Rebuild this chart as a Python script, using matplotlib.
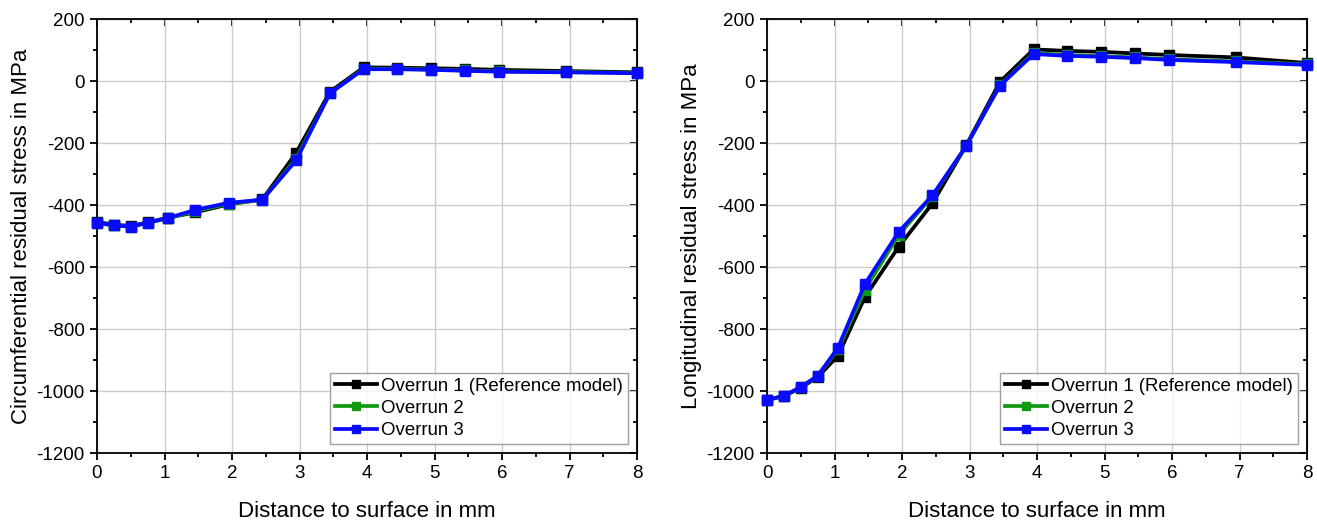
import numpy as np
import matplotlib.pyplot as plt

plt.rcParams['font.family'] = ['Liberation Sans', 'DejaVu Sans']
plt.rcParams['axes.unicode_minus'] = False

# depth positions (mm)
depth = [0, 0.25, 0.5, 0.75, 1.05, 1.45, 1.95, 2.45, 2.95, 3.45, 3.95, 4.45, 4.95, 5.45, 5.95, 6.95, 8]

# circumferential residual stress (MPa)
circ_1 = [-455, -463, -468, -456, -441, -424, -398, -382, -232, -35, 44, 43, 41, 39, 36, 32, 28]
circ_2 = [-458, -466, -470, -458, -443, -420, -396, -384, -250, -40, 40, 39, 37, 34, 31, 29, 26]
circ_3 = [-458, -465, -470, -457, -442, -416, -393, -383, -256, -40, 38, 38, 36, 33, 30, 28, 25]

# longitudinal residual stress (MPa)
long_1 = [-1029, -1016, -990, -955, -887, -697, -535, -395, -208, -3, 102, 97, 94, 89, 84, 76, 58]
long_2 = [-1029, -1016, -988, -952, -866, -674, -497, -372, -210, -14, 90, 84, 80, 76, 70, 63, 54]
long_3 = [-1029, -1016, -987, -951, -861, -655, -487, -369, -210, -15, 87, 81, 78, 74, 68, 61, 52]

labels = ['Overrun 1 (Reference model)', 'Overrun 2', 'Overrun 3']
colors = ['black', '#119911', '#0a0aff']

fig = plt.figure(figsize=(13.17, 5.21), dpi=100)
ax1 = fig.add_axes([97 / 1317, 1 - 453 / 521, 540 / 1317, 434 / 521])
ax2 = fig.add_axes([767 / 1317, 1 - 453 / 521, 540 / 1317, 434 / 521])


def draw(ax, series, ylabel):
    for ys, lab, c in zip(series, labels, colors):
        ax.plot(depth, ys, color=c, lw=2.7, marker='s', ms=7.5, label=lab, clip_on=False, zorder=3)
    ax.set_xlim(0, 8)
    ax.set_ylim(-1200, 200)
    ax.set_xticks(np.arange(0, 9, 1))
    ax.set_xticks(np.arange(0.5, 8, 1), minor=True)
    ax.set_yticks(np.arange(-1200, 201, 200))
    ax.set_yticks(np.arange(-1100, 200, 200), minor=True)
    ax.grid(True, which='major', color='#cccccc', lw=1)
    ax.tick_params(which='major', direction='out', length=5, width=1.3, labelsize=13.5, pad=4)
    ax.tick_params(which='minor', direction='out', length=3, width=1.3)
    for s in ax.spines.values():
        s.set_linewidth(1.3)
    # inward ticks on the opposite sides
    top = ax.secondary_xaxis('top')
    top.set_xticks(np.arange(0, 9, 1))
    top.set_xticks(np.arange(0.5, 8, 1), minor=True)
    top.tick_params(which='both', direction='in', labeltop=False, width=1.3)
    top.tick_params(which='major', length=5)
    top.tick_params(which='minor', length=3)
    right = ax.secondary_yaxis('right')
    right.set_yticks(np.arange(-1200, 201, 200))
    right.set_yticks(np.arange(-1100, 200, 200), minor=True)
    right.tick_params(which='both', direction='in', labelright=False, width=1.3)
    right.tick_params(which='major', length=5)
    right.tick_params(which='minor', length=3)
    ax.set_xlabel('Distance to surface in mm', fontsize=16, labelpad=13)
    ax.set_ylabel(ylabel, fontsize=16, labelpad=3)
    leg = ax.legend(loc='lower right', fontsize=13.4, numpoints=1, handlelength=2.3,
                    handletextpad=0.2, labelspacing=0.28, borderpad=0.25,
                    borderaxespad=0.5, fancybox=False, edgecolor='#888888', markerscale=0.75)
    leg.get_frame().set_linewidth(1)


draw(ax1, [circ_1, circ_2, circ_3], 'Circumferential residual stress in MPa')
draw(ax2, [long_1, long_2, long_3], 'Longitudinal residual stress in MPa')

fig.savefig('out.png', dpi=100)
